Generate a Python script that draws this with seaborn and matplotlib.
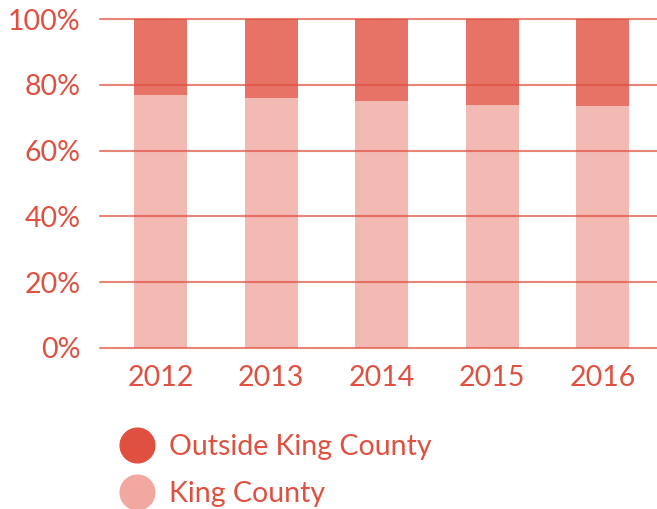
import matplotlib
matplotlib.use("Agg")
import matplotlib.pyplot as plt
import seaborn as sns
import pandas as pd
from matplotlib.lines import Line2D

years = ["2012", "2013", "2014", "2015", "2016"]
king_county = [76.9, 76.0, 75.0, 73.9, 73.5]
outside_king = [23.1, 24.0, 25.0, 26.1, 26.5]
y_ticks = [0, 20, 40, 60, 80, 100]
y_tick_labels = ["0%", "20%", "40%", "60%", "80%", "100%"]

RED = "#e05040"
PINK = "#f0a8a0"

sns.set_theme(style="white")
plt.rcParams["font.family"] = ["Lato", "DejaVu Sans"]

df = pd.DataFrame({"year": years, "king": king_county, "outside": outside_king})

fig = plt.figure(figsize=(6.57, 5.09), dpi=100)
ax = fig.add_axes([100 / 657, 161 / 509, 1 - 100 / 657, 329 / 509])

sns.barplot(data=df, x="year", y="king", color=PINK, alpha=0.8,
            width=0.48, saturation=1, linewidth=0, ax=ax)
sns.barplot(data=df, x="year", y="outside", bottom=df["king"], color=RED,
            alpha=0.8, width=0.48, saturation=1, linewidth=0, ax=ax)

ax.set_xlim(-0.547, 4.49)
ax.set_ylim(0, 100)
ax.set_yticks(y_ticks)
ax.set_yticklabels(y_tick_labels)
ax.set_xlabel("")
ax.set_ylabel("")

# gridlines on top of the bars
for y in y_ticks:
    ax.axhline(y, color=RED, alpha=0.7, lw=1.5, zorder=5, clip_on=False)

for s in ax.spines.values():
    s.set_visible(False)

ax.tick_params(axis="both", length=0, labelsize=20.5, colors=RED)
ax.tick_params(axis="y", pad=14)
ax.tick_params(axis="x", pad=12)

handles = [
    Line2D([], [], marker="o", ls="", markersize=25, color=RED),
    Line2D([], [], marker="o", ls="", markersize=25, color=PINK),
]
leg = fig.legend(handles, ["Outside King County", "King County"],
                 loc="upper left", bbox_to_anchor=(106 / 657, 1 - 420 / 509),
                 frameon=False, fontsize=20.5, handletextpad=0.5,
                 labelspacing=0.72, borderpad=0, handlelength=1.2)
for t in leg.get_texts():
    t.set_color(RED)

fig.savefig("out.png", dpi=100)
